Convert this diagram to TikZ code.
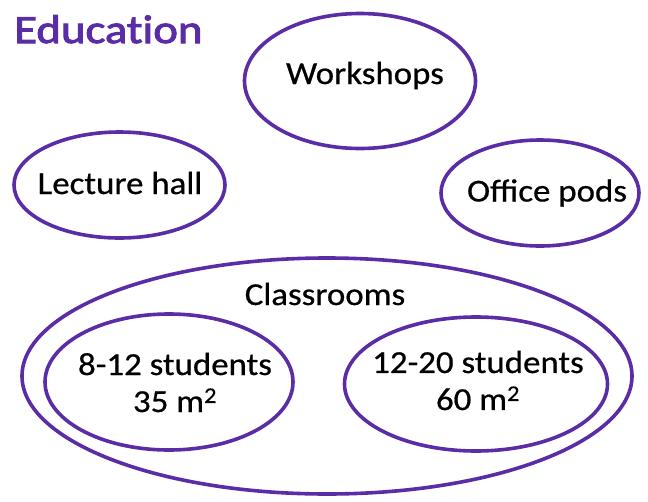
\documentclass[tikz,border=0pt]{standalone}
\usepackage{fontspec}
\setmainfont{Carlito}[FakeStretch=1.09, FakeBold=0.6]
\newfontfamily\titlefont{Carlito}[FakeStretch=1.17, FakeBold=2.5, Ligatures=NoCommon]
\usetikzlibrary{shapes.geometric}
\definecolor{edu}{HTML}{5A2CA5}
\tikzset{
  room/.style={ellipse, draw=edu, line width=3.6pt, inner sep=0pt},
  roomname/.style={inner sep=0pt, align=center, font=\fontsize{32}{37}\selectfont},
}
\begin{document}
\begin{tikzpicture}[x=1pt,y=-1pt]
      \useasboundingbox (0,0) rectangle (648,501);
      \node[anchor=base west, inner sep=0pt, text=edu, font=\fontsize{40}{44}\titlefont] (title) at (14,43) {Education};
      % rooms
      \draw
        (360,81) node[room, minimum width=231, minimum height=135] (ws){}
        (119.5,185) node[room, minimum width=211, minimum height=106] (lh){}
        (540,193) node[room, minimum width=198, minimum height=106] (op){}
        (327,376) node[room, minimum width=610, minimum height=236] (cls){}
        (169,382) node[room, minimum width=248, minimum height=136] (s1){}
        (476,384) node[room, minimum width=263, minimum height=134] (s2){};
      % names
      \node[roomname, anchor=base] (wsname) at (365,84) {Workshops};
      \node[roomname, anchor=base] (lhname) at (120,194) {Lecture hall};
      \node[roomname, anchor=base] (opname) at (547,201.5) {Office pods};
      \node[roomname, anchor=base] (clsname) at (325,305) {Classrooms};
      \node[roomname] (s1name) at (175,382.5) {8-12 students\\35 m\textsuperscript{2}};
      \node[roomname] (s2name) at (478,380.5) {12-20 students\\60 m\textsuperscript{2}};
    \end{tikzpicture}
\end{document}
